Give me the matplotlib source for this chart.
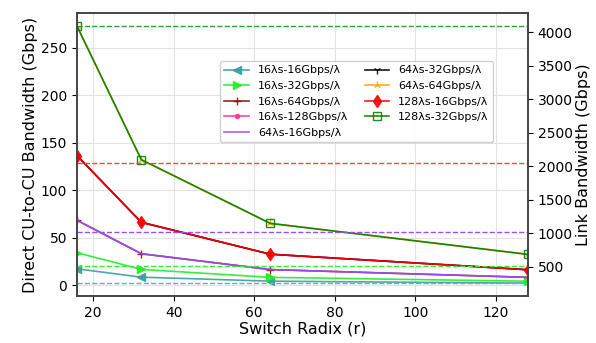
import matplotlib
matplotlib.use('Agg')
import matplotlib.pyplot as plt

# 交换机端口数
radix = [16, 32, 64, 128]

# 各配置的直连带宽 (Gbps)
bw_16x16 = [17.1, 8.3, 4.1, 2.0]
bw_16x32 = [34.1, 16.5, 8.1, 4.0]
bw_16x64 = [68.3, 33.0, 16.3, 8.1]
bw_16x128 = [136.5, 66.1, 32.5, 16.1]
bw_64x16 = [68.3, 33.0, 16.3, 8.1]
bw_64x32 = [136.5, 66.1, 32.5, 16.1]
bw_64x64 = [273.1, 132.1, 65.0, 32.3]
bw_128x16 = [136.5, 66.1, 32.5, 16.1]
bw_128x32 = [273.1, 132.1, 65.0, 32.3]

# 链路带宽 (Gbps)，右轴虚线
link_bw = [256, 512, 1024, 2048, 4096]
link_colors = ['#5fb3b3', '#33ee33', '#9b4dff', '#ff4444', '#2ca02c']

labels = ['16λs-16Gbps/λ', '16λs-32Gbps/λ', '16λs-64Gbps/λ', '16λs-128Gbps/λ',
          '64λs-16Gbps/λ', '64λs-32Gbps/λ', '64λs-64Gbps/λ',
          '128λs-16Gbps/λ', '128λs-32Gbps/λ']
series = [bw_16x16, bw_16x32, bw_16x64, bw_16x128, bw_64x16,
          bw_64x32, bw_64x64, bw_128x16, bw_128x32]
colors = ['#3a9e9e', '#22ee22', '#8b1010', '#ff3399', '#9b4dff',
          'black', 'orange', 'red', 'green']
markers = ['<', '>', '+', '.', None, '1', '2', 'd', 's']

plt.rcParams['font.family'] = ['DejaVu Sans']

fig = plt.figure(figsize=(5.96, 3.43), dpi=100)
ax = fig.add_axes([0.129, 0.137, 0.757, 0.825])
ax2 = ax.twinx()

for y, lab, c, m in zip(series, labels, colors, markers):
    mfc = 'none' if m == 's' else c
    ax.plot(radix, y, color=c, marker=m, markersize=6, lw=1.2,
            mfc=mfc, label=lab, alpha=0.9)

for v, c in zip(link_bw, link_colors):
    ax2.plot([radix[0], radix[-1]], [v, v], color=c, ls='--', lw=1)

ax.set_xlim(16, 128)
ax.grid(True, color='#e2e2e2', lw=0.8)
ax.set_axisbelow(True)
ax.set_xlabel('Switch Radix (r)', fontsize=11.5, labelpad=1)
ax.set_ylabel('Direct CU-to-CU Bandwidth (Gbps)', fontsize=11.5, labelpad=2)
ax2.set_ylabel('Link Bandwidth (Gbps)', fontsize=11.5, labelpad=2)
ax.tick_params(labelsize=10)
ax2.tick_params(labelsize=10)
ax2.set_yticks([500, 1000, 1500, 2000, 2500, 3000, 3500, 4000])

for a in (ax, ax2):
    for s in a.spines.values():
        s.set_color('#444444')
        s.set_linewidth(1.2)

ax.legend(ncol=2, fontsize=8, loc='upper left', bbox_to_anchor=(0.305, 0.85),
          handlelength=2.2, columnspacing=1.5, framealpha=0.9)

fig.savefig('out.png', dpi=100)
